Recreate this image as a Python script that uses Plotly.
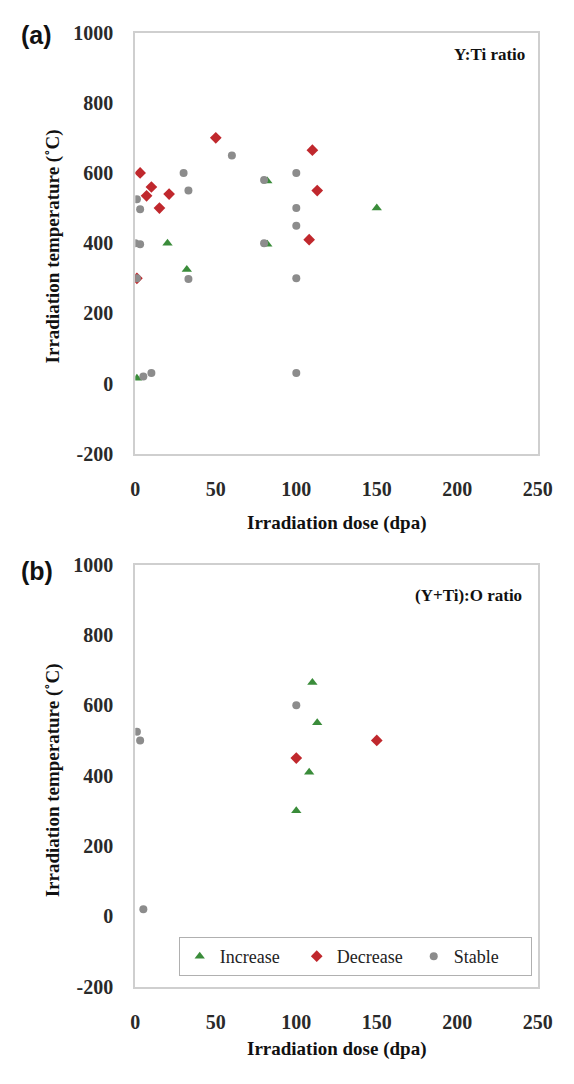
import plotly.graph_objects as go

# Irradiation conditions of oxide particles, grouped by change in composition ratio
# Panel (a): Y:Ti ratio
a_inc_dose = [1, 20, 32, 82, 82, 150]
a_inc_temp = [15, 400, 325, 577, 397, 500]

a_dec_dose = [50, 3, 10, 7, 21, 15, 1, 110, 113, 108]
a_dec_temp = [700, 600, 560, 535, 540, 500, 300, 665, 550, 410]

a_sta_dose = [60, 30, 33, 1, 3, 0, 3, 33, 1, 5, 10, 100, 100, 100, 100, 100, 80, 80]
a_sta_temp = [650, 600, 550, 525, 497, 400, 397, 298, 300, 20, 30, 600, 500, 450, 300, 30, 580, 400]

# Panel (b): (Y+Ti):O ratio
b_inc_dose = [110, 113, 108, 100]
b_inc_temp = [665, 550, 410, 300]

b_dec_dose = [100, 150]
b_dec_temp = [450, 500]

b_sta_dose = [1, 3, 5, 100]
b_sta_temp = [525, 500, 20, 600]

x_ticks = [0, 50, 100, 150, 200, 250]
x_tick_text = ["0", "50", "100", "150", "200", "250"]
y_ticks = [-200, 0, 200, 400, 600, 800, 1000]
y_tick_text = ["-200", "0", "200", "400", "600", "800", "1000"]

GREEN = "#3a8c3a"
RED = "#c0282d"
GRAY = "#8c8c8c"
SERIF = "Times New Roman, Liberation Serif, DejaVu Serif, serif"

W, H = 574, 1084
fig = go.Figure()

def add_panel(xa, ya, inc, dec, sta, show_legend):
    common = dict(mode="markers", xaxis=xa, yaxis=ya, showlegend=show_legend)
    fig.add_trace(go.Scatter(x=inc[0], y=inc[1], name="Increase",
                             marker=dict(symbol="triangle-up", size=9, color=GREEN), **common))
    fig.add_trace(go.Scatter(x=dec[0], y=dec[1], name="Decrease",
                             marker=dict(symbol="diamond", size=9, color=RED), **common))
    fig.add_trace(go.Scatter(x=sta[0], y=sta[1], name="Stable",
                             marker=dict(symbol="circle", size=8, color=GRAY), **common))

add_panel("x", "y", (a_inc_dose, a_inc_temp), (a_dec_dose, a_dec_temp),
          (a_sta_dose, a_sta_temp), False)
add_panel("x2", "y2", (b_inc_dose, b_inc_temp), (b_dec_dose, b_dec_temp),
          (b_sta_dose, b_sta_temp), True)

x0, x1 = 135 / W, 552 / W
dom_a = [1 - 452 / H, 1 - 22 / H]
dom_b = [1 - 996 / H, 1 - 565 / H]

axis_line = dict(showline=True, linecolor="#cfcfcf", linewidth=2, mirror=True,
                 showgrid=False, zeroline=False, ticks="",
                 tickfont=dict(family=SERIF, size=20, color="#2a2a2a", weight="bold"))

xcommon = dict(range=[0, 250], tickvals=x_ticks, ticktext=x_tick_text,
               ticklabelstandoff=16, **axis_line)
ycommon = dict(range=[-200, 1000], tickvals=y_ticks, ticktext=y_tick_text,
               ticklabelstandoff=16, **axis_line)

fig.update_layout(
    width=W, height=H,
    margin=dict(l=0, r=0, t=0, b=0),
    font=dict(family=SERIF, size=18, color="#222222"),
    paper_bgcolor="white", plot_bgcolor="white",
    xaxis=dict(domain=[x0, x1], anchor="y", **xcommon),
    yaxis=dict(domain=dom_a, anchor="x", **ycommon),
    xaxis2=dict(domain=[x0, x1], anchor="y2", **xcommon),
    yaxis2=dict(domain=dom_b, anchor="x2", **ycommon),
    legend=dict(orientation="h", x=180 / W, y=1 - 985 / H, xanchor="left", yanchor="bottom",
                xref="paper", yref="paper",
                bordercolor="#b0b0b0", borderwidth=1, bgcolor="white",
                font=dict(family=SERIF, size=18, color="#222222"),
                entrywidth=72, entrywidthmode="pixels", itemwidth=30,
                tracegroupgap=0),
)

def ann(text, x, y, size, angle=0, family=SERIF, xanchor="center", bold=True):
    fig.add_annotation(text=f"<b>{text}</b>" if bold else text, x=x / W, y=1 - y / H,
                       xref="paper", yref="paper", showarrow=False, textangle=angle,
                       xanchor=xanchor, yanchor="middle",
                       font=dict(family=family, size=size, color="#111111"))

# panel letters
ann("(a)", 14, 24, 25, family="Liberation Sans", xanchor="left")
ann("(b)", 14, 572, 25, family="Liberation Sans", xanchor="left")

# in-panel titles
ann("Y:Ti ratio", 541, 44, 17, xanchor="right")
ann("(Y+Ti):O ratio", 538, 597, 17, xanchor="right")

# axis titles
ann("Irradiation temperature (˚C)", 50, 240, 19, angle=-90)
ann("Irradiation dose (dpa)", 343, 523, 19)
ann("Irradiation temperature (˚C)", 50, 785, 19, angle=-90)
ann("Irradiation dose (dpa)", 343, 1060, 19)

fig.write_html("out.html")
